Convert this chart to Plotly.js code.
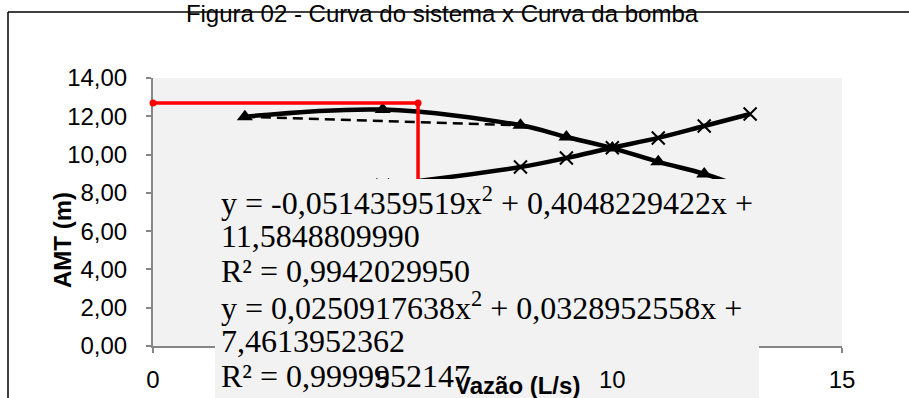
<!DOCTYPE html>
<html>
<head>
<meta charset="utf-8">
<script src="https://cdn.plot.ly/plotly-3.0.1.min.js"></script>
<style>
  html, body { margin: 0; padding: 0; background: #fff; }
  #chart { width: 909px; height: 398px; }
</style>
</head>
<body>
<div id="chart"></div>
<script>
// Curva da bomba (triangulos)
const pumpX = [2, 5, 8, 9, 10, 11, 12, 13];
const pumpY = [11.98, 12.35, 11.53, 10.92, 10.34, 9.62, 8.99, 8.15];
// linha tracejada da bomba (sem o ponto de 5 L/s)
const pumpDashX = [2, 8, 9, 10, 11, 12];
const pumpDashY = [11.98, 11.53, 10.92, 10.34, 9.62, 8.99];
// Curva do sistema (x)
const systemX = [2, 5, 8, 9, 10, 11, 12, 13];
const systemY = [7.63, 8.4, 9.35, 9.82, 10.36, 10.87, 11.49, 12.12];
// ponto de operacao (vermelho)
const opX = [0, 5.77, 5.77];
const opY = [12.7, 12.7, 0];

const xTicks = [0, 5, 10, 15];
const yTicks = [0, 2, 4, 6, 8, 10, 12, 14];

const eqLines = [
    'y = -0,0514359519x<sup>2</sup> + 0,4048229422x +',
    '11,5848809990',
    'R² = 0,9942029950',
    'y = 0,0250917638x<sup>2</sup> + 0,0328952558x +',
    '7,4613952362',
    'R² = 0,9999952147'
];

// plot area in pixels: left 153, right 842, top 78, bottom of page 398
const W = 689, H = 320;
function px(x) { return (x - 153) / W; }
function py(y) { return (398 - y) / H; }

const sans = 'Liberation Sans, Arial, sans-serif';
const serif = 'Liberation Serif, Times New Roman, serif';
const axisGray = '#868686';

var traces = [
    {
        x: pumpDashX, y: pumpDashY,
        type: 'scatter', mode: 'lines',
        line: { color: '#000', width: 2.5, dash: '10px,6px' },
        hoverinfo: 'skip'
    },
    {
        x: pumpX, y: pumpY,
        type: 'scatter', mode: 'lines+markers',
        line: { color: '#000', width: 4.5, shape: 'spline' },
        marker: { symbol: 'triangle-up', size: 14, color: '#000' }
    },
    {
        x: systemX, y: systemY,
        type: 'scatter', mode: 'lines+markers',
        line: { color: '#000', width: 4.5, shape: 'spline' },
        marker: { symbol: 'x-thin-open', size: 13, line: { color: '#000', width: 2 } }
    },
    {
        x: opX, y: opY,
        type: 'scatter', mode: 'lines+markers',
        line: { color: '#ff0000', width: 3.5 },
        marker: { symbol: 'circle', size: 7, color: '#ff0000' },
        cliponaxis: false
    },
    // empty trace so the overlay subplot (box + tick labels) exists
    { x: [], y: [], type: 'scatter', xaxis: 'x2', yaxis: 'y2', hoverinfo: 'skip' }
];

var annotations = eqLines.map(function (t, i) {
    return {
        text: t, xref: 'paper', yref: 'paper',
        x: px(219), y: py(201 + 35 * i),
        xanchor: 'left', yanchor: 'middle', align: 'left',
        showarrow: false,
        font: { family: serif, size: 32, color: '#000' }
    };
});
annotations.push({
    text: '<b>AMT (m)</b>', xref: 'paper', yref: 'paper',
    x: px(62), y: py(240), textangle: -90,
    xanchor: 'center', yanchor: 'middle', showarrow: false,
    font: { family: sans, size: 24, color: '#000' }
});
annotations.push({
    text: '<b>Vazão (L/s)</b>', xref: 'paper', yref: 'paper',
    x: px(517), y: py(385),
    xanchor: 'center', yanchor: 'middle', showarrow: false,
    font: { family: sans, size: 24, color: '#000' }
});

var layout = {
    width: 909, height: 398,
    margin: { l: 153, r: 67, t: 78, b: 0, pad: 0 },
    paper_bgcolor: '#fff',
    plot_bgcolor: 'rgba(0,0,0,0)',
    separators: ',.',
    showlegend: false,
    font: { family: sans, size: 24, color: '#000' },
    title: {
        text: 'Figura 02 - Curva do sistema x Curva da bomba',
        font: { family: sans, size: 24, color: '#000' },
        xref: 'container', yref: 'container',
        x: 442 / 909, y: 1 - 14 / 398,
        xanchor: 'center', yanchor: 'middle'
    },
    xaxis: {
        domain: [0, 1], range: [0, 15], anchor: 'y',
        showline: true, linecolor: axisGray, linewidth: 2,
        ticks: 'outside', ticklen: 5, tickwidth: 2, tickcolor: axisGray,
        tickvals: xTicks, showticklabels: false,
        showgrid: false, zeroline: false, fixedrange: true,
        layer: 'below traces'
    },
    yaxis: {
        domain: [py(346), 1], range: [0, 14], anchor: 'x',
        showline: true, linecolor: axisGray, linewidth: 2,
        ticks: 'outside', ticklen: 5, tickwidth: 2, tickcolor: axisGray,
        tickvals: yTicks, tickformat: '.2f', ticklabelstandoff: 14,
        tickfont: { family: sans, size: 24, color: '#000' },
        showgrid: false, zeroline: false, fixedrange: true,
        layer: 'below traces'
    },
    xaxis2: {
        domain: [0, 1], range: [0, 15], anchor: 'free', position: py(346),
        showline: false, ticks: 'outside', ticklen: 5, tickcolor: 'rgba(0,0,0,0)',
        tickvals: xTicks, ticklabelstandoff: 7,
        tickfont: { family: sans, size: 24, color: '#000' },
        showgrid: false, zeroline: false, fixedrange: true
    },
    yaxis2: {
        domain: [0, 1], range: [0, 1], anchor: 'x2',
        visible: false, showgrid: false, zeroline: false, fixedrange: true
    },
    shapes: [
        // gray plot area
        { type: 'rect', xref: 'paper', yref: 'paper', layer: 'below',
          x0: 0, x1: 1, y0: py(346), y1: 1,
          fillcolor: '#f2f2f2', line: { width: 0 } },
        // chart border (top and left)
        { type: 'line', xref: 'paper', yref: 'paper', layer: 'below',
          x0: px(8), x1: px(915), y0: py(12), y1: py(12),
          line: { color: '#000', width: 1.5 } },
        { type: 'line', xref: 'paper', yref: 'paper', layer: 'below',
          x0: px(8), x1: px(8), y0: py(12), y1: py(410),
          line: { color: '#000', width: 1.5 } },
        // trendline label box, above the curves but under the tick labels
        { type: 'rect', xref: 'x2', yref: 'y2', layer: 'below',
          x0: (215 - 153) / 45.93, x1: (759 - 153) / 45.93, y0: 0, y1: py(179),
          fillcolor: '#f2f2f2', line: { width: 0 } }
    ],
    annotations: annotations
};

Plotly.newPlot('chart', traces, layout, { staticPlot: true, displayModeBar: false });
</script>
</body>
</html>
